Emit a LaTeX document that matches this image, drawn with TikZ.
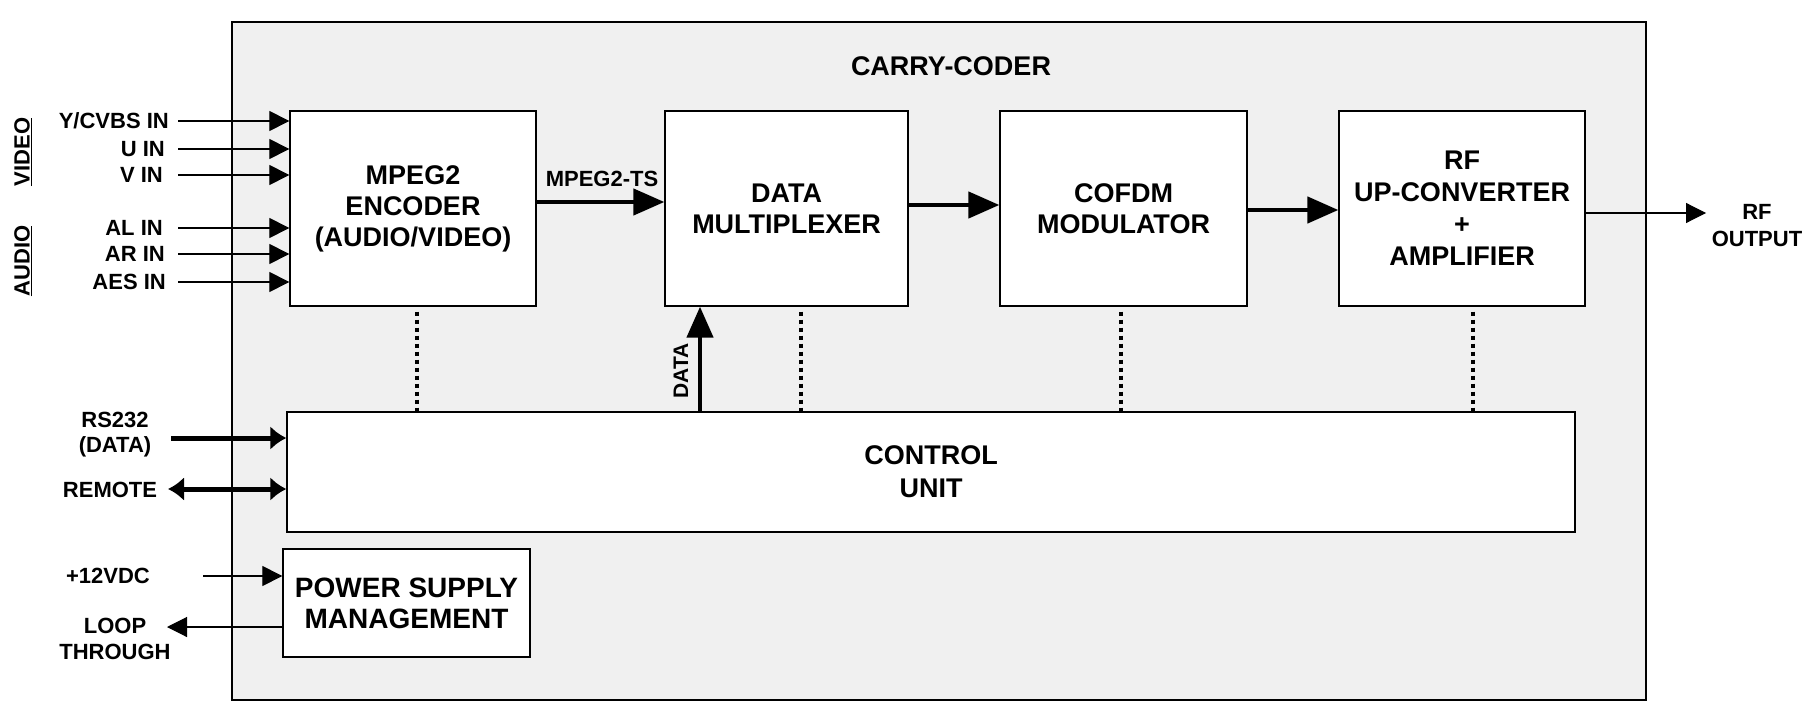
\documentclass[tikz,border=0pt]{standalone}
\usepackage{fontspec}
\setmainfont{Liberation Sans}
\usetikzlibrary{arrows.meta}
\newcommand\bxfont{\fontsize{27bp}{31bp}\selectfont\bfseries}
\newcommand\lbfont{\fontsize{22bp}{25bp}\selectfont\bfseries}
\begin{document}
\begin{tikzpicture}[x=1bp,y=-1bp,
  box/.style={draw,fill=white,line width=1.3bp,align=center,inner sep=0pt,font=\bxfont},
  lbl/.style={align=center,inner sep=0pt,font=\lbfont},
  inarrow/.style={line width=1.1bp,-{Triangle[length=20bp,width=20bp]}},
  bigarrow/.style={line width=4.5bp,-{Triangle[length=31bp,width=26bp]}},
  rsarrow/.style={line width=5bp,-{Latex[length=16bp,width=24bp]}},
  rsboth/.style={line width=5bp,{Latex[length=16bp,width=24bp]}-{Latex[length=16bp,width=24bp]}},
  dotline/.style={line width=4bp,dash pattern=on 4bp off 4bp}
]
\useasboundingbox (0,0) rectangle (1807,709);
% outer frame
\node[draw,fill=gray!12,line width=1.2bp,minimum width=1414bp,minimum height=678bp,inner sep=0pt] (outer) at (939,361) {};
\node[font=\bxfont,inner sep=0pt] (title) at (951,66) {CARRY-CODER};
% blocks
\node[box,minimum width=246bp,minimum height=195bp] (enc) at (413,208.5) {MPEG2\\ENCODER\\(AUDIO/VIDEO)};
\node[box,minimum width=243bp,minimum height=195bp] (mux) at (786.5,208.5) {DATA\\MULTIPLEXER};
\node[box,minimum width=247bp,minimum height=195bp] (cofdm) at (1123.5,208.5) {COFDM\\MODULATOR};
\node[box,minimum width=246bp,minimum height=195bp,font=\fontsize{27bp}{32bp}\selectfont\bfseries] (rf) at (1462,208.5) {RF\\UP-CONVERTER\\+\\AMPLIFIER};
\node[box,minimum width=1288bp,minimum height=120bp,font=\fontsize{27bp}{33bp}\selectfont\bfseries] (ctrl) at (931,472) {CONTROL\\UNIT};
\node[box,minimum width=247bp,minimum height=108bp,font=\fontsize{28bp}{31bp}\selectfont\bfseries] (psu) at (406.5,603) {POWER SUPPLY\\MANAGEMENT};
% main chain
\draw[bigarrow] ([yshift=6.5bp]enc.east) -- ([yshift=6.5bp]mux.west);
\node[lbl] (ts) at (602,179) {MPEG2-TS};
\draw[bigarrow] ([yshift=3.5bp]mux.east) -- ([yshift=3.5bp]cofdm.west);
\draw[bigarrow] ([yshift=-1.5bp]cofdm.east) -- ([yshift=-1.5bp]rf.west);
\coordinate (rfo) at (1706,213);
\draw[inarrow] (rfo -| rf.east) -- (rfo);
\node[lbl,font=\fontsize{22bp}{27bp}\selectfont\bfseries] (rfout) at (1757,226) {RF\\OUTPUT};
% inputs
\node[lbl,anchor=east] (yin) at (169,121) {Y/CVBS IN};
\node[lbl,anchor=east] (uin) at (165,149) {U IN};
\node[lbl,anchor=east] (vin) at (163,175) {V IN};
\node[lbl,anchor=east] (alin) at (163,228) {AL IN};
\node[lbl,anchor=east] (arin) at (165,254) {AR IN};
\node[lbl,anchor=east] (aesin) at (166,282) {AES IN};
\foreach \n/\yy in {yin/121,uin/149,vin/175,alin/228,arin/254,aesin/282}{
  \coordinate (s\n) at (178,\yy);
  \draw[inarrow] (s\n) -- (s\n -| enc.west);
}
\node[lbl,rotate=90] (video) at (23,152) {\underline{VIDEO}};
\node[lbl,rotate=90] (audio) at (23,261) {\underline{AUDIO}};
% dotted control links
\coordinate (d1) at (417,0);
\coordinate (d2) at (801,0);
\coordinate (d3) at (1121,0);
\coordinate (d4) at (1473,0);
\draw[dotline] ([yshift=-5bp]d1 |- enc.south) -- (d1 |- ctrl.north);
\draw[dotline] ([yshift=-5bp]d2 |- mux.south) -- (d2 |- ctrl.north);
\draw[dotline] ([yshift=-5bp]d3 |- cofdm.south) -- (d3 |- ctrl.north);
\draw[dotline] ([yshift=-5bp]d4 |- rf.south) -- (d4 |- ctrl.north);
% DATA into multiplexer
\coordinate (dx) at (700,0);
\draw[bigarrow] (dx |- ctrl.north) -- (dx |- mux.south);
\node[lbl,rotate=90,font=\fontsize{21bp}{24bp}\selectfont\bfseries] (datalbl) at (681,371) {DATA};
% control interfaces
\node[lbl] (rs) at (115,434.5) {RS232\\(DATA)};
\coordinate (rsin) at (171,438);
\draw[rsarrow] (rsin) -- (rsin -| ctrl.west);
\node[lbl] (remote) at (110,490) {REMOTE};
\coordinate (remin) at (168,489);
\draw[rsboth] (remin) -- (remin -| ctrl.west);
% power
\node[lbl] (vdc) at (108,576) {+12VDC};
\coordinate (vdcin) at (203,576);
\draw[inarrow] (vdcin) -- (vdcin -| psu.west);
\node[lbl,font=\fontsize{22bp}{26bp}\selectfont\bfseries] (loop) at (115,639) {LOOP\\THROUGH};
\coordinate (loopout) at (167,627);
\draw[inarrow] (loopout -| psu.west) -- (loopout);
\end{tikzpicture}
\end{document}
